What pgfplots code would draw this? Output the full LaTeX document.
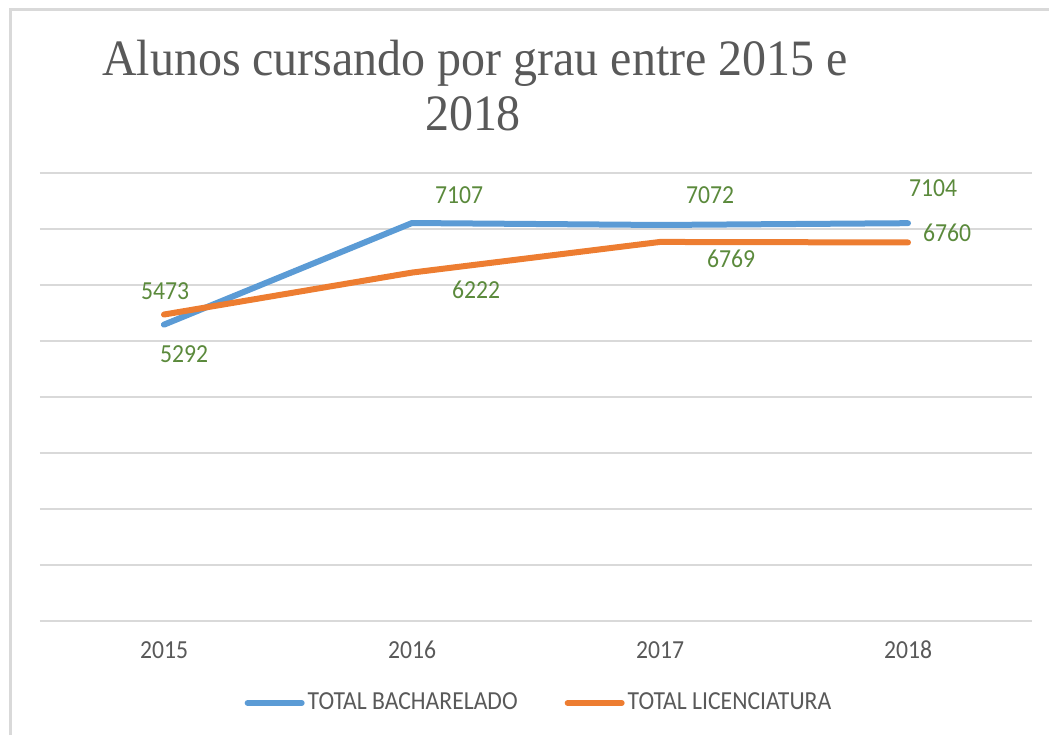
\documentclass[border=0pt]{standalone}
\usepackage{fontspec}
\setmainfont{Carlito}[FakeStretch=0.91]
\newfontfamily\titlefont{Liberation Serif}[FakeStretch=0.94]
\usepackage{pgfplots}
\pgfplotsset{compat=1.18}
\definecolor{cblue}{HTML}{5B9BD5}
\definecolor{corange}{HTML}{ED7D31}
\definecolor{cgrid}{HTML}{D9D9D9}
\definecolor{ctext}{HTML}{595959}
\definecolor{cgreen}{HTML}{5B8A3C}
\pgfplotstableread{
x y lbl dx dy
0 5292 5292 10 -14.5
1 7107 7107 23.5 14
2 7072 7072 25 15
3 7104 7104 12.5 17.5
}\bach
\pgfplotstableread{
x y lbl dx dy
0 5473 5473 0.5 11.75
1 6222 6222 32 -8.7
2 6769 6769 35.5 -8.5
3 6760 6760 19.5 4.75
}\lic
\begin{document}
\begin{tikzpicture}[x=0.5pt,y=-0.5pt]
\path[use as bounding box] (0,0) rectangle (1049,735);
\draw[cgrid, line width=1.5pt] (10.5,735) -- (10.5,9.5) -- (1049,9.5);
\node[anchor=base, font=\titlefont\fontsize{25.5}{30}\selectfont, text=ctext] at (475,75) {Alunos cursando por grau entre 2015 e};
\node[anchor=base, font=\titlefont\fontsize{25.5}{30}\selectfont, text=ctext] at (473,130) {2018};
\begin{axis}[
  at={(20pt,-310.5pt)}, anchor=south west,
  scale only axis, width=496pt, height=224pt,
  xmin=-0.5, xmax=3.5, ymin=0, ymax=8000,
  ytick={0,1000,...,8000}, yticklabels={},
  xtick={0,1,2,3}, xticklabels={2015,2016,2017,2018},
  ymajorgrids, major grid style={cgrid, line width=1pt},
  axis line style={draw=none}, major tick length=0pt,
  xticklabel style={font=\fontsize{13}{15}\selectfont, text=ctext, anchor=base, yshift=-18.5pt},
  clip=false,
  legend style={at={(0.5035,-0.183)}, anchor=center, draw=none, fill=none,
    legend columns=2, font=\fontsize{13}{15}\selectfont, text=ctext,
    /tikz/every even column/.append style={column sep=22pt},
    inner sep=0pt, nodes={inner sep=1.5pt}},
  legend image code/.code={\draw[#1, line cap=round] (0pt,0pt) -- (27pt,0pt);},
]
\addplot[cblue, line width=3pt, line cap=round, line join=round, nodes near coords, point meta=explicit symbolic,
  visualization depends on={\thisrow{dx}\as\dx},
  visualization depends on={\thisrow{dy}\as\dy},
  every node near coord/.append style={font=\fontsize{13}{15}\selectfont, text=cgreen, anchor=center, inner sep=0pt, xshift=\dx*1pt, yshift=\dy*1pt}]
  table[x=x, y=y, meta=lbl] {\bach};
\addlegendentry{TOTAL BACHARELADO}
\addplot[corange, line width=3pt, line cap=round, line join=round, nodes near coords, point meta=explicit symbolic,
  visualization depends on={\thisrow{dx}\as\dx},
  visualization depends on={\thisrow{dy}\as\dy},
  every node near coord/.append style={font=\fontsize{13}{15}\selectfont, text=cgreen, anchor=center, inner sep=0pt, xshift=\dx*1pt, yshift=\dy*1pt}]
  table[x=x, y=y, meta=lbl] {\lic};
\addlegendentry{TOTAL LICENCIATURA}
\end{axis}
\end{tikzpicture}
\end{document}
